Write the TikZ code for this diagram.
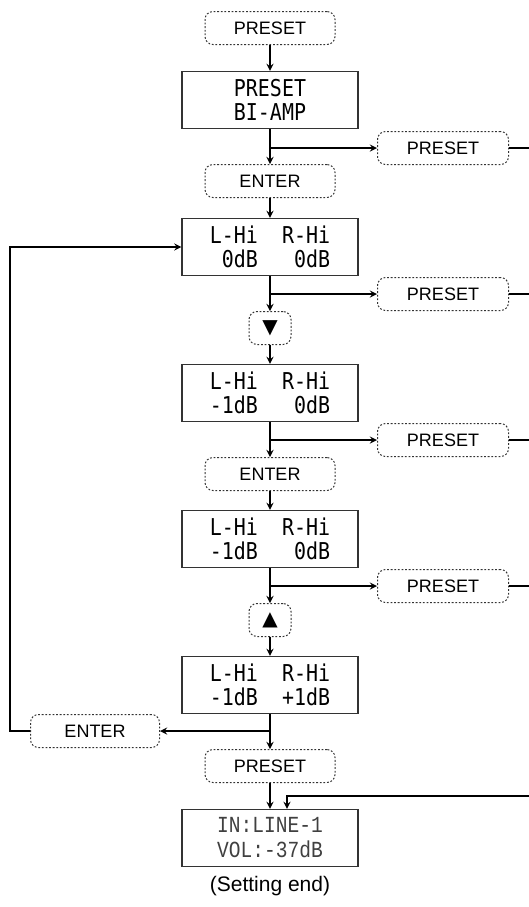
\documentclass[tikz,border=0pt]{standalone}
\usepackage{fontspec}
\setmainfont{Liberation Sans}
\newfontfamily\lcdfont[FakeStretch=0.86]{DejaVu Sans Mono}
\newfontfamily\lcdthin[FakeStretch=0.85]{Liberation Mono}
\newfontfamily\symfont{DejaVu Sans}
\usetikzlibrary{positioning,arrows}

\begin{document}
\begin{tikzpicture}[x=0.5pt, y=-0.5pt, >=stealth, line width=0.6pt,
    keybox/.style={draw=black!80, line width=0.5pt, dash pattern=on 0.9pt off 0.9pt,
        rounded corners=4pt, minimum width=65pt, minimum height=16.5pt, inner sep=0pt,
        font=\fontsize{9}{10}\selectfont},
    arrowkey/.style={keybox, minimum width=21pt, font=\symfont\fontsize{10}{10}\selectfont},
    lcdbox/.style={draw=black!80, minimum width=88pt, minimum height=28.5pt, inner sep=0pt,
        align=center, font=\lcdfont\fontsize{11.6}{12}\selectfont}]

            \useasboundingbox (0,0) rectangle (529,907);
            \coordinate (edge) at (529,0);
            \coordinate (loop) at (10,0);
            \coordinate (ret) at (287,796);

            % main column
            \node [keybox] (key-1) at (270,28) {PRESET};
            \node [lcdbox] (lcd-1) at (270,100) {PRESET\\BI-AMP};
            \node [keybox] (key-2) at (270,181) {ENTER};
            \node [lcdbox] (lcd-2) at (270,247) {L-Hi~~R-Hi\\~0dB~~~0dB};
            \node [arrowkey] (key-3) at (270,328) {▼};
            \node [lcdbox] (lcd-3) at (270,393) {L-Hi~~R-Hi\\-1dB~~~0dB};
            \node [keybox] (key-4) at (270,474) {ENTER};
            \node [lcdbox] (lcd-4) at (270,539) {L-Hi~~R-Hi\\-1dB~~~0dB};
            \node [arrowkey] (key-5) at (270,620) {▲};
            \node [lcdbox] (lcd-5) at (270,685) {L-Hi~~R-Hi\\-1dB~~+1dB};
            \node [keybox] (key-6) at (270,766) {PRESET};
            \node [lcdbox, text=black!75, font=\lcdthin\fontsize{11.5}{12.5}\selectfont] (lcd-6) at (270,838) {IN:LINE-1\\VOL:-37dB};
            \node [font=\fontsize{10.5}{12}\selectfont] (end) at (270,886) {(Setting end)};

            % side keys
            \foreach \y [count=\i] in {148,294,440,586}
                \node [keybox, minimum width=65.5pt] (exit-\i) at (443,\y) {PRESET};
            \node [keybox, minimum width=64.5pt] (back) at (95,731) {ENTER};

            % lines down the column
            \foreach \a/\b in {key-1/lcd-1, lcd-1/key-2, key-2/lcd-2, lcd-2/key-3, key-3/lcd-3,
                lcd-3/key-4, key-4/lcd-4, lcd-4/key-5, key-5/lcd-5, lcd-5/key-6, key-6/lcd-6}
                \draw [->] (\a) -- (\b);

            % lines out to the side keys
            \foreach \l [count=\i] in {lcd-1,lcd-2,lcd-3,lcd-4}
            {
                \draw [->] (\l.south |- exit-\i.west) -- (exit-\i.west);
                \draw (exit-\i.east) -- (exit-\i.east -| edge);
            }

            % back to the first level
            \draw [->] (lcd-5.south |- back.east) -- (back.east);
            \draw [->] (back.west) -- (back.west -| loop) |- (lcd-2.west);

            % return from the side keys
            \draw [->] (ret -| edge) -- (ret) -- (ret |- lcd-6.north);

\end{tikzpicture}
\end{document}
